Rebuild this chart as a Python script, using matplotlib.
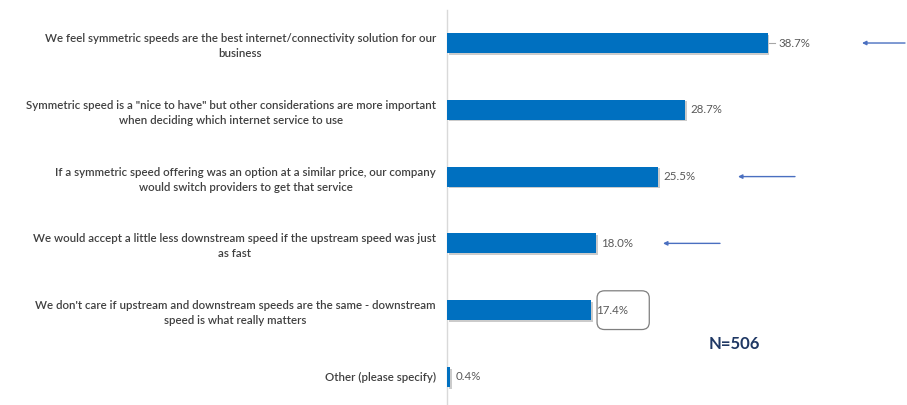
import matplotlib.pyplot as plt
import matplotlib.patheffects as pe
from matplotlib.patches import FancyBboxPatch

statements = [
    'We feel symmetric speeds are the best internet/connectivity solution for our\nbusiness',
    'Symmetric speed is a "nice to have" but other considerations are more important\nwhen deciding which internet service to use',
    'If a symmetric speed offering was an option at a similar price, our company\nwould switch providers to get that service',
    'We would accept a little less downstream speed if the upstream speed was just\nas fast',
    "We don't care if upstream and downstream speeds are the same - downstream\nspeed is what really matters",
    'Other (please specify)',
]
shares = [38.7, 28.7, 25.5, 18.0, 17.4, 0.4]
highlighted = [0, 2, 3]   # rows flagged with an arrow
boxed = 4                 # row whose label gets a rounded frame
sample_size = 'N=506'

W, H = 907, 405
fig = plt.figure(figsize=(W / 100, H / 100), dpi=100)
ax = fig.add_axes([447 / W, 0, 460 / W, 1])

bar_color = '#0070C0'
label_color = '#404040'
value_color = '#595959'
arrow_color = '#4a6fc0'

ypos = list(range(len(shares)))
bars = ax.barh(ypos, shares, height=0.3, color=bar_color, zorder=3)
for b in bars:
    b.set_path_effects([pe.SimplePatchShadow(offset=(1.2, -1.2), shadow_rgbFace='#999999', alpha=0.5),
                        pe.Normal()])

px = 8.29  # pixels per percentage point
ax.set_xlim(0, 460 / px)
ax.set_ylim(5.42, -0.644)

ax.set_yticks(ypos)
ax.set_yticklabels(statements, fontsize=8.3, color=label_color,
                   family=['Lato', 'DejaVu Sans'], fontweight='semibold')
for t in ax.get_yticklabels():
    t.set_multialignment('center')
    t.set_linespacing(1.45)
ax.tick_params(axis='y', length=0, pad=8)
ax.set_xticks([])

for s in ['top', 'right', 'bottom']:
    ax.spines[s].set_visible(False)
ax.spines['left'].set_color('#d9d9d9')
ax.spines['left'].set_linewidth(1)
ax.spines['left'].set_bounds(5.42, -0.5)

# value labels
for i, v in enumerate(shares):
    off = 5 / px
    if i == 0:
        ax.plot([v + 0.2, v + 0.9], [i, i], color='#a6a6a6', lw=0.8)
        off = 1.3
    ax.text(v + off, i, f'{v:.1f}%', va='center', ha='left', fontsize=8.3,
            color=value_color, family=['Lato', 'DejaVu Sans'])

# arrows pointing back at the key rows
arrow_spans = {0: (458 / px, 415 / px), 2: (348 / px, 291 / px), 3: (273 / px, 216 / px)}
for i in highlighted:
    x0, x1 = arrow_spans[i]
    ax.annotate('', xy=(x1, i), xytext=(x0, i),
                arrowprops=dict(arrowstyle='-|>', color=arrow_color, lw=1.0,
                                mutation_scale=6, shrinkA=0, shrinkB=0))

# rounded frame around the boxed value
v = shares[boxed]
frame = FancyBboxPatch((v + 0.7, boxed - 0.29), 6.3, 0.58,
                       boxstyle='round,pad=0,rounding_size=0.9',
                       mutation_aspect=0.12,
                       fill=False, edgecolor='#7f7f7f', lw=0.9, zorder=4)
ax.add_patch(frame)

ax.text((734 - 447) / px, 5 - 0.5, sample_size, ha='center', va='center',
        fontsize=12, fontweight='bold', color='#1F3864',
        family=['Lato', 'DejaVu Sans'])

fig.savefig('out.png', dpi=100)
